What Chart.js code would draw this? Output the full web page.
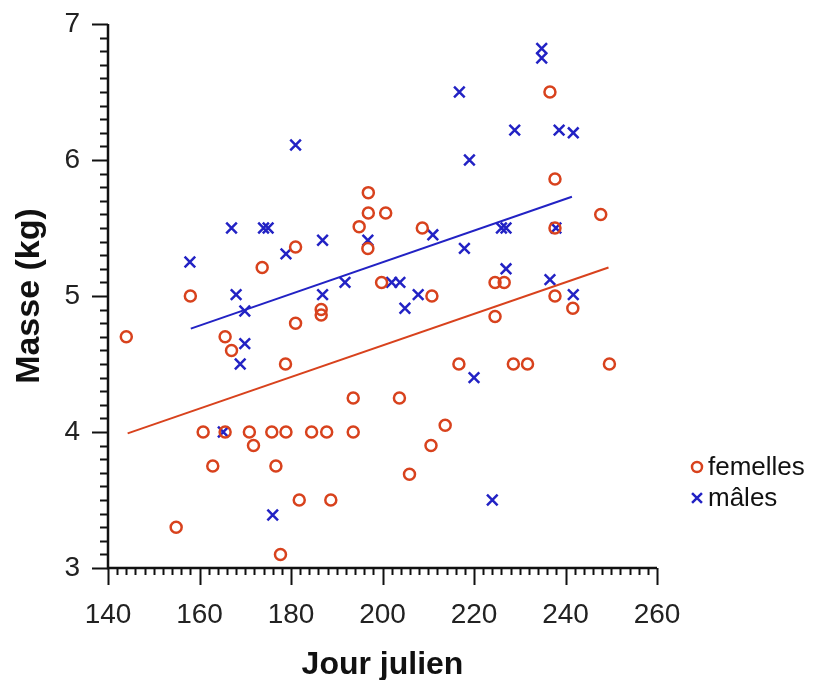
<!DOCTYPE html>
<html>
<head>
<meta charset="utf-8">
<script src="https://cdn.jsdelivr.net/npm/chart.js@4.4.1/dist/chart.umd.min.js"></script>
<style>
  body { margin: 0; background: #fff; }
  #wrap { width: 831px; height: 680px; }
</style>
</head>
<body>
<div id="wrap"><canvas id="myChart" width="831" height="680"></canvas></div>
<script>
// donnees
const femellesJour = [144, 158, 165.6, 167, 181, 186.6, 186.6, 178.8, 160.8, 165.6,
    170.9, 175.8, 178.9, 184.5, 187.8, 171.8, 162.9, 176.7, 181.8, 188.7,
    154.9, 177.7, 173.7, 181, 236.6, 237.7, 196.9, 196.9, 200.7, 194.9,
    208.7, 196.8, 247.7, 237.7, 199.8, 224.6, 226.6, 210.8, 237.7, 193.6,
    203.7, 193.6, 210.6, 213.7, 205.9, 216.7, 228.6, 231.7, 249.6, 224.6, 241.6];
const femellesMasse = [4.70, 5.00, 4.70, 4.60, 4.80, 4.90, 4.86, 4.50, 4.00, 4.00,
    4.00, 4.00, 4.00, 4.00, 4.00, 3.90, 3.75, 3.75, 3.50, 3.50,
    3.30, 3.10, 5.21, 5.36, 6.50, 5.86, 5.76, 5.61, 5.61, 5.51,
    5.50, 5.35, 5.60, 5.50, 5.10, 5.10, 5.10, 5.00, 5.00, 4.25,
    4.25, 4.00, 3.90, 4.05, 3.69, 4.50, 4.50, 4.50, 4.50, 4.85, 4.91];

const malesJour = [181, 167, 174, 175, 157.9, 178.9, 186.9, 168, 186.9, 169.9,
    169.9, 168.9, 165.2, 176, 234.8, 234.8, 216.8, 219, 228.9, 238.6,
    241.7, 196.8, 211, 226, 227, 237.9, 217.9, 227, 191.8, 202,
    203.8, 236.6, 207.8, 241.7, 204.9, 220, 224];
const malesMasse = [6.11, 5.50, 5.50, 5.50, 5.25, 5.31, 5.41, 5.01, 5.01, 4.89,
    4.65, 4.50, 4.00, 3.39, 6.82, 6.75, 6.50, 6.00, 6.22, 6.22,
    6.20, 5.41, 5.45, 5.50, 5.50, 5.50, 5.35, 5.20, 5.10, 5.10,
    5.10, 5.12, 5.01, 5.01, 4.91, 4.40, 3.50];

// droites de tendance (extremites)
const tendanceFemellesJour = [144.3, 249.4];
const tendanceFemellesMasse = [3.99, 5.21];
const tendanceMalesJour = [158.1, 241.4];
const tendanceMalesMasse = [4.76, 5.73];

const ROUGE = '#d8421d';
const BLEU = '#2222c4';
const FONT = "'Liberation Sans', Arial, sans-serif";

function to_points(xs, ys) {
    return xs.map((v, i) => ({x: v, y: ys[i]}));
}

// axes avec petites graduations
const axesPlugin = {
    id: 'axes',
    afterDraw(chart) {
        const {ctx, scales: {x, y}} = chart;
        const x0 = x.getPixelForValue(140);
        const y0 = y.getPixelForValue(3);
        ctx.save();
        ctx.strokeStyle = '#111';
        ctx.lineWidth = 2.5;
        ctx.beginPath();
        ctx.moveTo(x0, y.getPixelForValue(7));
        ctx.lineTo(x0, y0);
        ctx.lineTo(x.getPixelForValue(260), y0);
        ctx.stroke();

        ctx.lineWidth = 2;
        ctx.beginPath();
        for (let i = 0; i <= 60; i++) {
            const px = Math.round(x.getPixelForValue(140 + i * 2)) + 0.5;
            const len = (i % 10 === 0) ? 17 : 7;
            ctx.moveTo(px, y0);
            ctx.lineTo(px, y0 + len);
        }
        for (let i = 0; i <= 40; i++) {
            const py = Math.round(y.getPixelForValue(3 + i / 10)) + 0.5;
            const len = (i % 10 === 0) ? 16 : 8;
            ctx.moveTo(x0, py);
            ctx.lineTo(x0 - len, py);
        }
        ctx.stroke();
        ctx.restore();
    }
};

// legende a droite
const legendPlugin = {
    id: 'legendeDroite',
    afterDraw(chart) {
        const {ctx} = chart;
        const items = [
            {label: 'femelles', style: 'circle', radius: 5, color: ROUGE, width: 2.5},
            {label: 'mâles', style: 'crossRot', radius: 7, color: BLEU, width: 2.5}
        ];
        ctx.save();
        items.forEach((it, i) => {
            const cy = 467 + i * 31;
            ctx.strokeStyle = it.color;
            ctx.fillStyle = 'rgba(0,0,0,0)';
            ctx.lineWidth = it.width;
            Chart.helpers.drawPoint(ctx, {pointStyle: it.style, radius: it.radius, rotation: 0, borderWidth: it.width}, 697, cy);
            ctx.fillStyle = '#111';
            ctx.font = '500 26px ' + FONT;
            ctx.textBaseline = 'middle';
            ctx.textAlign = 'left';
            ctx.fillText(it.label, 708, cy + 1);
        });
        ctx.restore();
    }
};

const ctx = document.getElementById('myChart').getContext('2d');

const data = {
    datasets: [
        {
            type: 'line',
            label: 'tendance femelles',
            data: to_points(tendanceFemellesJour, tendanceFemellesMasse),
            borderColor: ROUGE,
            borderWidth: 2,
            pointRadius: 0,
            fill: false,
        },
        {
            type: 'line',
            label: 'tendance mâles',
            data: to_points(tendanceMalesJour, tendanceMalesMasse),
            borderColor: BLEU,
            borderWidth: 2,
            pointRadius: 0,
            fill: false,
        },
        {
            label: 'femelles',
            data: to_points(femellesJour, femellesMasse),
            pointStyle: 'circle',
            pointRadius: 5.5,
            borderWidth: 2.5,
            borderColor: ROUGE,
            backgroundColor: 'rgba(0,0,0,0)',
        },
        {
            label: 'mâles',
            data: to_points(malesJour, malesMasse),
            pointStyle: 'crossRot',
            pointRadius: 7.5,
            borderWidth: 2.5,
            borderColor: BLEU,
            backgroundColor: BLEU,
        },
    ]
};

const config = {
    type: 'scatter',
    data: data,
    plugins: [axesPlugin, legendPlugin],
    options: {
        responsive: false,
        animation: false,
        devicePixelRatio: 1,
        layout: {
            padding: {top: 24, right: 174, bottom: 0, left: 0}
        },
        plugins: {
            legend: {display: false},
            tooltip: {enabled: false},
        },
        scales: {
            x: {
                type: 'linear',
                min: 140,
                max: 260,
                afterFit: (scale) => { scale.height = 112; },
                grid: {display: true, drawOnChartArea: false, drawTicks: true, tickLength: 30, tickColor: 'rgba(0,0,0,0)'},
                border: {display: false},
                ticks: {
                    stepSize: 20,
                    padding: 0,
                    color: '#222',
                    font: {family: FONT, size: 28},
                },
                title: {
                    display: true,
                    text: 'Jour julien',
                    color: '#111',
                    font: {family: FONT, size: 32, weight: 'bold'},
                    padding: {top: 0, bottom: -4},
                },
            },
            y: {
                type: 'linear',
                min: 3,
                max: 7,
                afterFit: (scale) => { scale.width = 108; },
                grid: {display: true, drawOnChartArea: false, drawTicks: true, tickLength: 28, tickColor: 'rgba(0,0,0,0)'},
                border: {display: false},
                ticks: {
                    stepSize: 1,
                    padding: 0,
                    color: '#222',
                    font: {family: FONT, size: 28},
                },
                title: {
                    display: true,
                    text: 'Masse (kg)',
                    color: '#111',
                    font: {family: FONT, size: 34, weight: 'bold'},
                    padding: {top: 9, bottom: 0},
                },
            },
        }
    }
};

const myChart = new Chart(ctx, config);
</script>
</body>
</html>
